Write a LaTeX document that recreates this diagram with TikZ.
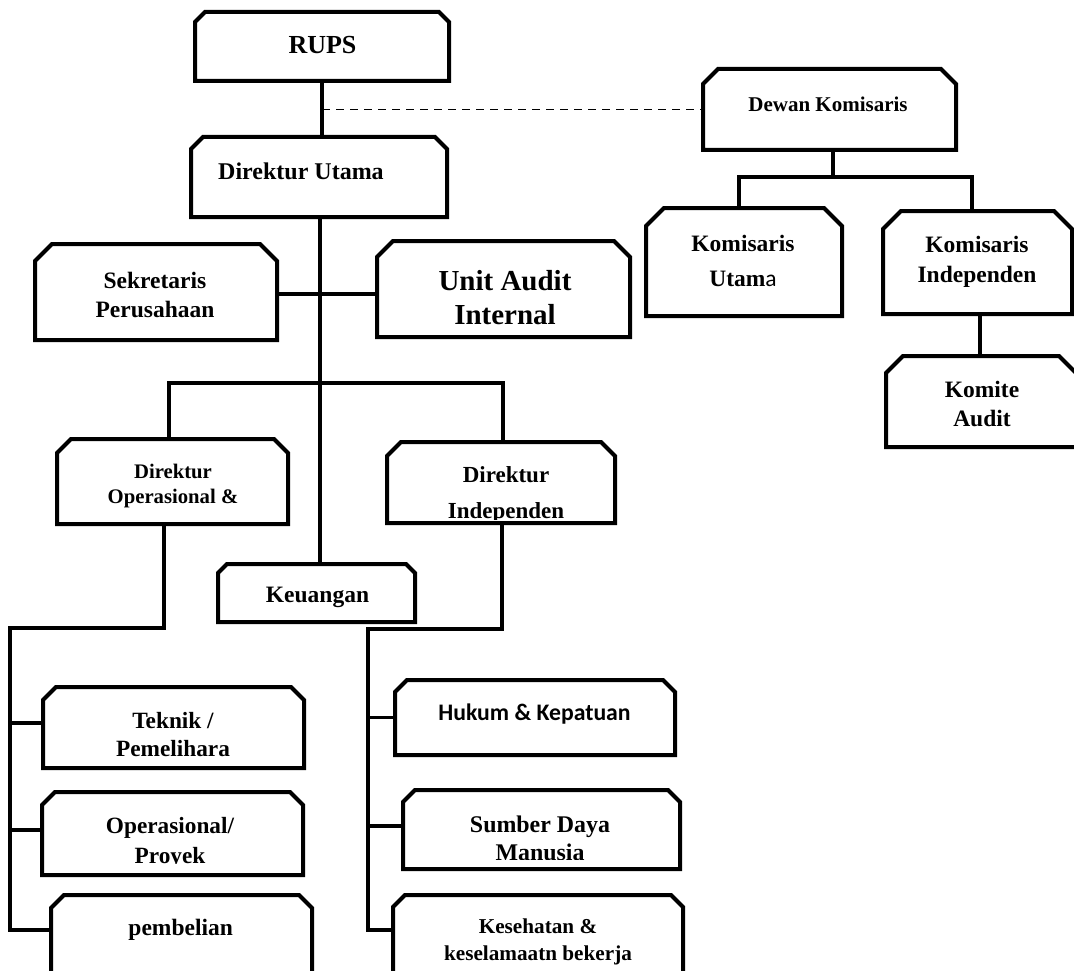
\documentclass[tikz,border=0pt]{standalone}
\usepackage{fontspec}
\setmainfont{Liberation Serif}
\newfontfamily\calfont{Carlito}
\usetikzlibrary{fit}

% box with the two upper corners cut off: name, left, top, right, bottom, chamfer
\newcommand\chambox[6]{%
  \path (#2,#3) coordinate (#1-a) (#4,#5) coordinate (#1-b);
  \node[fit=(#1-a)(#1-b), inner sep=0pt, outer sep=0pt] (#1) {};
  \draw[boxline] (#1.south west) -- ([yshift=-#6pt]#1.north west)
    -- ([xshift=#6pt]#1.north west) -- ([xshift=-#6pt]#1.north east)
    -- ([yshift=-#6pt]#1.north east) -- (#1.south east) -- cycle;
}
\newcommand\fsz[2]{\fontsize{#1pt}{#2pt}\selectfont\bfseries}

\begin{document}
\begin{tikzpicture}[x=1pt,y=-1pt,
  boxline/.style={line width=4pt, fill=white, line join=miter},
  conn/.style={line width=3.8pt},
  dashline/.style={line width=1.8pt, dash pattern=on 8pt off 6pt},
  lbl/.style={inner sep=0pt, outer sep=0pt, align=center}]
\clip (0,0) rectangle (1074,971);
\fill[white] (0,0) rectangle (1074,971);

% boxes
\chambox{rups}{195}{12}{449}{81}{10}
\chambox{dirut}{191}{137}{447}{217}{12}
\chambox{sek}{35}{244}{277}{340}{17}
\chambox{ua}{377}{241}{630}{337}{16}
\chambox{dewan}{703}{69}{956}{150}{15}
\chambox{komut}{646}{208}{842}{316}{18}
\chambox{komind}{883}{211}{1072}{314}{18}
\chambox{komite}{886}{356}{1076}{447}{17}
\chambox{diro}{57}{439}{288}{524}{14}
\chambox{dirin}{387}{442}{615}{523}{14}
\chambox{keu}{218}{564}{415}{622}{9}
\chambox{teknik}{43}{687}{304}{768}{13}
\chambox{oper}{42}{792}{303}{875}{13}
\chambox{pemb}{51}{895}{312}{990}{13}
\chambox{hukum}{395}{680}{675}{755}{12}
\chambox{sdm}{403}{790}{680}{869}{12}
\chambox{kkk}{393}{895}{683}{990}{12}

% labels
\node[lbl, font=\fsz{26}{30}] (rups-t) at (322.5,45.4) {RUPS};
\node[lbl, font=\fsz{24}{28}] (dirut-t) at (301,171) {Direktur Utama};
\node[lbl, font=\fsz{23.5}{29}] (sek-t) at (155,294.5) {Sekretaris\\Perusahaan};
\node[lbl, font=\fsz{29}{34.3}] (ua-t) at (505,297.8) {Unit Audit\\Internal};
\node[lbl, font=\fsz{21}{25}] (dewan-t) at (828,104.5) {Dewan Komisaris};
\node[lbl, font=\fsz{23.5}{35}] (komut-t) at (743,261) {Komisaris\\Utam{\calfont\mdseries a}};
\node[lbl, font=\fsz{23.5}{30}] (komind-t) at (977,262) {Komisaris\\Independen};
\node[lbl, font=\fsz{23.5}{29}] (komite-t) at (982,404.4) {Komite\\Audit};
\node[lbl, font=\fsz{20.7}{25}] (diro-t) at (173,485.8) {Direktur\\Operasional \&};
\begin{scope}
  \clip (389,444) rectangle (613,519.5);
  \node[lbl, font=\fsz{23}{36}] (dirin-t) at (506,494.5) {Direktur\\Independen};
\end{scope}
\node[lbl, font=\fsz{23.5}{28}] (keu-t) at (317.5,597.7) {Keuangan};
\node[lbl, font=\fsz{23.3}{28.4}] (teknik-t) at (173,734.5) {Teknik /\\Pemelihara};
\begin{scope}
  \clip (44,794) rectangle (301,863);
  \node[lbl, font=\fsz{23.3}{30}] (oper-t) at (170,842.5) {Operasional/\\Proyek};
\end{scope}
\node[lbl, font=\fsz{23.5}{28}] (pemb-t) at (180.7,929.4) {pembelian};
\node[lbl, font={\calfont\fsz{23.7}{28}}] (hukum-t) at (534.5,714) {Hukum \& Kepatuan};
\begin{scope}
  \clip (405,792) rectangle (678,859);
  \node[lbl, font=\fsz{23.9}{28}] (sdm-t) at (540,838) {Sumber Daya\\Manusia};
\end{scope}
\node[lbl, font=\fsz{21.2}{27}] (kkk-t) at (538,941.5) {Kesehatan \&\\keselamaatn bekerja};

% connectors
\coordinate (dbus) at (320,383);
\coordinate (kbus) at (833,177);
\coordinate (lcorner) at (10,628);
\coordinate (rcorner) at (368,629);
\coordinate (teknik-in) at ([yshift=4.5pt]teknik.west);
\coordinate (oper-in) at ([yshift=3.5pt]oper.west);
\coordinate (pemb-in) at ([yshift=12.5pt]pemb.west);
\coordinate (sdm-in) at ([yshift=3.5pt]sdm.west);
\coordinate (kkk-in) at ([yshift=12.5pt]kkk.west);

\draw[conn] (rups.south) -- (rups.south |- dirut.north);
\draw[dashline] (dewan.west -| rups.south) -- (dewan.west);
\draw[conn] ([xshift=1pt]dirut.south) -- ([xshift=1pt]dirut.south |- keu.north);
\draw[conn] ([yshift=-2pt]sek.east) -- ([yshift=-2pt]sek.east -| ua.west);
\draw[conn] ([xshift=-3.5pt]diro.north) |- (dbus) -| ([xshift=2pt]dirin.north);

\draw[conn] ([xshift=3.5pt]dewan.south) -- (kbus);
\draw[conn] ([xshift=-5pt]komut.north) |- (kbus) -| ([xshift=-5.5pt]komind.north);
\draw[conn] ([xshift=2.5pt]komind.south) -- ([xshift=2.5pt]komind.south |- komite.north);

\draw[conn] ([xshift=-8.5pt]diro.south) |- (lcorner) |- (pemb-in);
\draw[conn] (lcorner |- teknik-in) -- (teknik-in);
\draw[conn] (lcorner |- oper-in) -- (oper-in);

\draw[conn] ([xshift=1pt]dirin.south) |- (rcorner) |- (kkk-in);
\draw[conn] (rcorner |- hukum.west) -- (hukum.west);
\draw[conn] (rcorner |- sdm-in) -- (sdm-in);
\end{tikzpicture}
\end{document}
